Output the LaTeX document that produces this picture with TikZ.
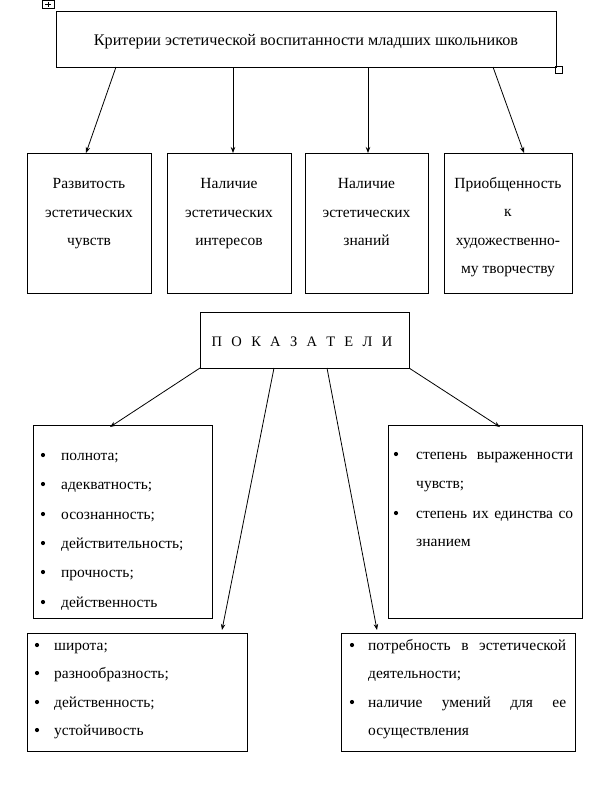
\documentclass[tikz,border=0pt]{standalone}
\usepackage{fontspec}
\setmainfont{Liberation Serif}
\usetikzlibrary{arrows.meta}
\tikzset{
  boxn/.style={draw, line width=0.9pt, inner sep=0pt, anchor=north west},
  conn/.style={line width=0.8pt, -{Stealth[length=6pt,width=4.5pt]}},
  ctxt/.style={inner sep=0pt, anchor=base, font=\fontsize{15.5}{18}\selectfont},
  ltxt/.style={inner sep=0pt, anchor=base west, font=\fontsize{15.5}{18}\selectfont},
  bul/.style={circle, fill, inner sep=0pt, minimum size=4.2pt},
  handlebox/.style={draw, line width=0.6pt, inner sep=0pt, minimum size=7pt}
}
\newcommand{\lsp}{\hspace{9.3pt}}
\begin{document}
\begin{tikzpicture}[x=1pt,y=-1pt]
\useasboundingbox (0,0) rectangle (596,790);
% top box
\node[boxn, minimum width=500pt, minimum height=56pt] (top) at (56,11) {};
\node[ctxt, font=\fontsize{16.2}{18}\selectfont] (toptxt) at (306,45.5) {Критерии эстетической воспитанности младших школьников};
\node[handlebox, minimum width=12pt, minimum height=8pt] (m1) at (48,4) {};
\draw[line width=0.5pt] ([xshift=-3pt]m1.center) -- ([xshift=3pt]m1.center) ([yshift=-2.5pt]m1.center) -- ([yshift=2.5pt]m1.center);
\node[handlebox] (m2) at (558.5,70) {};
% row of criteria
\node[boxn, minimum width=124pt, minimum height=140pt] (b1) at (27,153) {};
\node[boxn, minimum width=124pt, minimum height=140pt] (b2) at (167,153) {};
\node[boxn, minimum width=123pt, minimum height=140pt] (b3) at (305,153) {};
\node[boxn, minimum width=128pt, minimum height=140pt] (b4) at (444,153) {};
\node[ctxt] (b1a) at (89,188) {Развитость};
\node[ctxt] (b1b) at (89,217) {эстетических};
\node[ctxt] (b1c) at (89,245) {чувств};
\node[ctxt] (b2a) at (229,188) {Наличие};
\node[ctxt] (b2b) at (229,217) {эстетических};
\node[ctxt] (b2c) at (229,245) {интересов};
\node[ctxt] (b3a) at (366.5,188) {Наличие};
\node[ctxt] (b3b) at (366.5,217) {эстетических};
\node[ctxt] (b3c) at (366.5,245) {знаний};
\node[ctxt] (b4a) at (508,188) {Приобщенность};
\node[ctxt] (b4b) at (508,216) {к};
\node[ctxt] (b4c) at (508,245) {художественно-};
\node[ctxt] (b4d) at (508,273) {му творчеству};
\coordinate (s1) at (116,67); \coordinate (e1) at (86,153);
\coordinate (s2) at (233,67); \coordinate (e2) at (233,153);
\coordinate (s3) at (368,67); \coordinate (e3) at (368,153);
\coordinate (s4) at (493,67); \coordinate (e4) at (524,153);
\draw[conn] (s1) -- (e1);
\draw[conn] (s2) -- (e2);
\draw[conn] (s3) -- (e3);
\draw[conn] (s4) -- (e4);
% ПОКАЗАТЕЛИ
\node[boxn, minimum width=209pt, minimum height=56pt] (pk) at (200,312) {};
\node[inner sep=0pt, anchor=base, font=\fontsize{14.5}{16}\selectfont] (pktxt) at (302,346) {П\lsp О\lsp К\lsp А\lsp З\lsp А\lsp Т\lsp Е\lsp Л\lsp И};
% left box
\node[boxn, minimum width=179pt, minimum height=193pt] (lb) at (33,425) {};
\foreach \y/\t [count=\i] in {455/{полнота;},484/{адекватность;},514/{осознанность;},543/{действительность;},572/{прочность;},602/{действенность}}{
  \node[bul] (lbb\i) at (43,\y) {};
  \node[ltxt] (lbt\i) at (61,\y+5) {\t};
}
% right box
\node[boxn, minimum width=194pt, minimum height=193pt] (rb) at (388,425) {};
\node[bul] (rbb1) at (396,454) {};
\node[ltxt] (rbt1) at (416,459) {\makebox[157pt][s]{степень выраженности}};
\node[ltxt] (rbt2) at (416,488) {чувств;};
\node[bul] (rbb2) at (396,513) {};
\node[ltxt] (rbt3) at (416,518) {\makebox[157pt][s]{степень их единства со}};
\node[ltxt] (rbt4) at (416,546) {знанием};
% bottom left
\node[boxn, minimum width=220pt, minimum height=118pt] (bl) at (27,633) {};
\foreach \y/\t [count=\i] in {645/{широта;},673/{разнообразность;},702/{действенность;},730/{устойчивость}}{
  \node[bul] (blb\i) at (37,\y) {};
  \node[ltxt] (blt\i) at (54,\y+5) {\t};
}
% bottom right
\node[boxn, minimum width=234pt, minimum height=118pt] (br) at (341,633) {};
\node[bul] (brb1) at (352,645) {};
\node[ltxt] (brt1) at (368,650) {\makebox[198pt][s]{потребность в эстетической}};
\node[ltxt] (brt2) at (368,678) {деятельности;};
\node[bul] (brb2) at (352,702) {};
\node[ltxt] (brt3) at (368,707) {\makebox[198pt][s]{наличие умений для ее}};
\node[ltxt] (brt4) at (368,735) {осуществления};
% connectors from ПОКАЗАТЕЛИ
\coordinate (p1) at (200,368); \coordinate (q1) at (110,427);
\coordinate (p2) at (274,368); \coordinate (q2) at (222,630);
\coordinate (p3) at (327,368); \coordinate (q3) at (377,630);
\coordinate (p4) at (409,368); \coordinate (q4) at (500,427);
\draw[conn] (p1) -- (q1);
\draw[conn] (p2) -- (q2);
\draw[conn] (p3) -- (q3);
\draw[conn] (p4) -- (q4);
\end{tikzpicture}
\end{document}
